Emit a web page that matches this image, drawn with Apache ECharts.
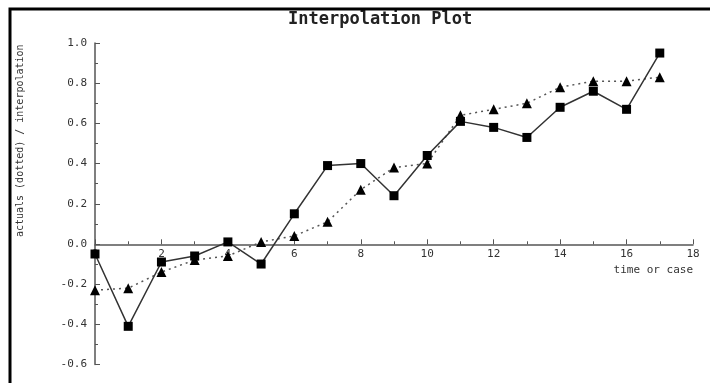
<!DOCTYPE html>
<html>
<head>
<meta charset="utf-8">
<script src="https://cdn.jsdelivr.net/npm/echarts@6/dist/echarts.min.js"></script>
<style>html,body{margin:0;padding:0;background:#fff}#c{width:710px;height:383px}</style>
</head>
<body>
<div id="c"></div>
<script>
var xValues = [0,1,2,3,4,5,6,7,8,9,10,11,12,13,14,15,16,17];
var interpolation = [-0.05,-0.41,-0.09,-0.06,0.01,-0.10,0.15,0.39,0.40,0.24,0.44,0.61,0.58,0.53,0.68,0.76,0.67,0.95];
var actuals = [-0.23,-0.22,-0.14,-0.08,-0.06,0.01,0.04,0.11,0.27,0.38,0.40,0.64,0.67,0.70,0.78,0.81,0.81,0.83];
var titleText = 'Interpolation Plot';
var xName = 'time or case';
var yName = 'actuals (dotted) / interpolation';

function pairs(v){ return xValues.map(function(x,i){ return [x, v[i]]; }); }

var chart = echarts.init(document.getElementById('c'));
var mono = 'DejaVu Sans Mono';
chart.setOption({
  animation: false,
  backgroundColor: '#fff',
  title: { text: titleText, left: 283, top: 6,
    textStyle: { fontFamily: mono, fontSize: 17, fontWeight: 'bold', color: '#222' } },
  graphic: [{ type: 'rect', shape: { x: 10, y: 9, width: 720, height: 400 },
    style: { fill: null, stroke: '#000', lineWidth: 3 }, z: 100 }],
  grid: { left: 95, right: 17, top: 43, bottom: 18.5 },
  xAxis: {
    type: 'value', min: 0, max: 18, interval: 2, position: 'bottom', offset: -120.2,
    name: xName, nameLocation: 'end', nameGap: 0,
    nameTextStyle: { fontFamily: mono, fontSize: 11, color: '#333', align: 'right', verticalAlign: 'top', padding: [20, 0, 0, 0] },
    axisLine: { onZero: false, lineStyle: { color: '#555', width: 1.5 } },
    axisTick: { show: true, inside: true, length: 5, lineStyle: { color: '#555' } },
    minorTick: { show: true, splitNumber: 2, length: 3, lineStyle: { color: '#555' } },
    axisLabel: { fontFamily: mono, fontSize: 11, color: '#333', margin: 4 },
    splitLine: { show: false }
  },
  yAxis: {
    type: 'value', min: -0.6, max: 1.0, interval: 0.2,
    name: yName, nameLocation: 'middle', nameRotate: 90, nameGap: 70,
    nameTextStyle: { fontFamily: mono, fontSize: 10, color: '#333', padding: [0, 0, 0, 126] },
    axisLine: { show: true, onZero: false, lineStyle: { color: '#555', width: 1.5 } },
    axisTick: { show: true, inside: true, length: 5, lineStyle: { color: '#555' } },
    minorTick: { show: true, splitNumber: 2, length: 3, lineStyle: { color: '#555' } },
    axisLabel: { fontFamily: mono, fontSize: 11, color: '#333', margin: 8,
      formatter: function(v){ return (Math.round(v*10)/10).toFixed(1); } },
    splitLine: { show: false }
  },
  series: [
    { type: 'line', data: pairs(actuals), symbol: 'triangle', symbolSize: 10,
      itemStyle: { color: '#000' }, lineStyle: { color: '#555', width: 1.5, type: [2, 4] }, z: 3 },
    { type: 'line', data: pairs(interpolation), symbol: 'rect', symbolSize: 9,
      itemStyle: { color: '#000' }, lineStyle: { color: '#333', width: 1.5 }, z: 4 }
  ]
});
</script>
</body>
</html>
